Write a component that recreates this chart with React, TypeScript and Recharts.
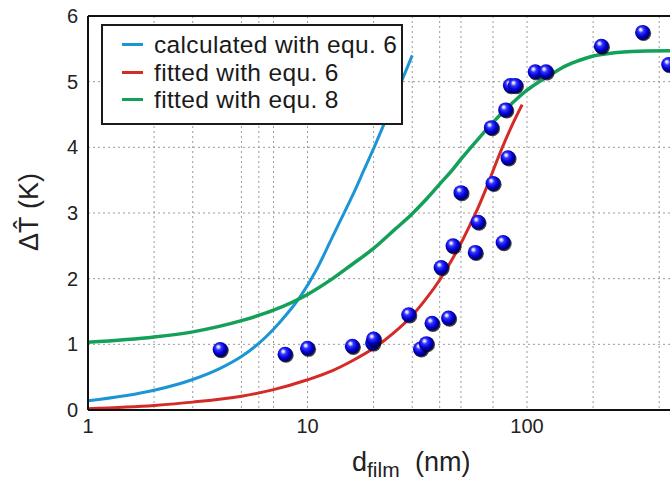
import React from 'react';
import { ComposedChart, Line, Scatter, XAxis, YAxis, ReferenceLine, CartesianGrid, Legend } from 'recharts';

const FONT = '"Liberation Sans", Arial, sans-serif';

// blue: calculated with equ. 6
const calcX = [1, 2, 3, 4, 5, 6, 7, 8, 9.4, 11, 12.7, 14, 16, 18, 20.5, 22.5, 24.4, 27, 30];
const calcY = [0.14, 0.30, 0.465, 0.635, 0.815, 1.015, 1.23, 1.45, 1.758, 2.14, 2.567, 2.86, 3.26, 3.64, 4.065, 4.385, 4.67, 5.03, 5.40];

// red: fitted with equ. 6
const fit6X = [1, 2, 3, 5, 7, 10, 13, 16, 20, 25, 30, 35, 40, 45, 50, 55, 60, 66, 73, 80, 87, 95];
const fit6Y = [0.02, 0.07, 0.12, 0.21, 0.31, 0.46, 0.6, 0.75, 0.94, 1.19, 1.44, 1.71, 1.98, 2.26, 2.54, 2.82, 3.09, 3.42, 3.8, 4.12, 4.39, 4.65];

// green: fitted with equ. 8
const fit8X = [1, 2, 3, 5, 7, 10, 13, 16, 20, 25, 30, 35, 40, 45, 50, 60, 70, 80, 90, 100, 115, 130, 150, 175, 200, 250, 300, 448];
const fit8Y = [1.03, 1.11, 1.19, 1.36, 1.52, 1.76, 2.0, 2.22, 2.46, 2.75, 2.99, 3.22, 3.44, 3.63, 3.82, 4.13, 4.38, 4.58, 4.74, 4.87, 5.01, 5.12, 5.24, 5.33, 5.39, 5.44, 5.46, 5.47];

// measured points
const measX = [4, 7.9, 10, 16, 19.8, 20, 28.9, 32.7, 34.8, 36.9, 40.6, 43.9, 46, 50, 58.1, 59.8, 68.8, 70, 77.8, 79.9, 81.9, 84, 88.5, 109, 122, 218, 336, 442];
const measY = [0.92, 0.85, 0.94, 0.97, 1.02, 1.08, 1.45, 0.93, 1.01, 1.32, 2.17, 1.40, 2.50, 3.31, 2.40, 2.86, 4.30, 3.45, 2.55, 4.57, 3.84, 4.94, 4.94, 5.15, 5.15, 5.54, 5.75, 5.26];

const xTicks = [1, 10, 100];
const yTicks = [0, 1, 2, 3, 4, 5, 6];
const xGrid = [2, 3, 5, 6, 7, 10, 20, 30, 40, 50, 60, 70, 90, 100, 200, 400];
const yGrid = [1, 2, 3, 4, 5];

const seriesNames = ['calculated with equ. 6', 'fitted with equ. 6', 'fitted with equ. 8'];
const seriesColors = ['#1b95d4', '#d42b28', '#13a058'];

const zip = (xs: number[], ys: number[]) => xs.map((x, i) => ({ x, y: ys[i] }));
const calcData = zip(calcX, calcY);
const fit6Data = zip(fit6X, fit6Y);
const fit8Data = zip(fit8X, fit8Y);
const measData = zip(measX, measY);

const Sphere = (props: any) => {
  const { cx, cy } = props;
  if (cx == null || cy == null) return null;
  return (
    <g>
      <defs>
        <radialGradient id="sphGrad" cx="45%" cy="42%" r="60%" fx="36%" fy="30%">
          <stop offset="0%" stopColor="#ffffff" />
          <stop offset="14%" stopColor="#c8c8ff" />
          <stop offset="32%" stopColor="#3535ff" />
          <stop offset="65%" stopColor="#0000d6" />
          <stop offset="88%" stopColor="#00007a" />
          <stop offset="100%" stopColor="#000020" />
        </radialGradient>
      </defs>
      <circle cx={cx + 1} cy={cy + 1} r={7.6} fill="#000010" opacity={0.75} />
      <circle cx={cx} cy={cy} r={7.5} fill="url(#sphGrad)" />
    </g>
  );
};

const XLabel = () => (
  <text x={352} y={471} fontFamily={FONT} fill="#222" fontSize={27}>
    d
    <tspan fontSize={21} dy={6}>film</tspan>
    <tspan x={415} dy={-6}>(nm)</tspan>
  </text>
);

const YLabel = () => (
  <text
    x={37.5}
    y={212}
    transform="rotate(-90 37.5 212)"
    textAnchor="middle"
    fontFamily={FONT}
    fill="#222"
    fontSize={27}
  >
    {'\u0394T\u0302 (K)'}
  </text>
);

const rowTops = [5, 32.5, 60];

const LegendBox = () => (
  <div
    style={{
      position: 'relative',
      width: 302,
      height: 101,
      boxSizing: 'border-box',
      border: '2px solid #1a1a1a',
      background: '#fff',
      fontFamily: FONT,
      fontSize: 24.5,
      letterSpacing: 0.35,
      color: '#1a1a1a',
    }}
  >
    {seriesNames.map((n, i) => (
      <div
        key={n}
        style={{ position: 'absolute', left: 0, top: rowTops[i], height: 27, lineHeight: '27px', whiteSpace: 'nowrap', width: 298 }}
      >
        <span style={{ position: 'absolute', left: 19, top: 12, width: 21, height: 3, background: seriesColors[i] }} />
        <span style={{ position: 'absolute', left: 51, top: 0 }}>{n}</span>
      </div>
    ))}
  </div>
);

export default function App() {
  return (
    <div style={{ position: 'absolute', left: 0, top: 0, width: 670, height: 482, background: '#fff' }}>
      <ComposedChart width={670} height={482} margin={{ top: 16, right: 0, bottom: 0, left: 0 }}>
        <CartesianGrid
          verticalValues={xGrid}
          horizontalValues={yGrid}
          stroke="#9a9a9a"
          strokeDasharray="2 3"
          strokeWidth={1}
        />
        <XAxis
          type="number"
          dataKey="x"
          scale="log"
          domain={[1, 448]}
          allowDataOverflow
          ticks={xTicks}
          height={72}
          tickLine={false}
          tickSize={0}
          tickMargin={9}
          axisLine={{ stroke: '#111', strokeWidth: 2 }}
          tick={{ fontSize: 20, fill: '#222', fontFamily: FONT }}
          tickFormatter={(v: number) => String(v)}
          label={<XLabel />}
        />
        <YAxis
          type="number"
          dataKey="y"
          domain={[0, 6]}
          ticks={yTicks}
          width={88}
          tickLine={false}
          tickSize={0}
          tickMargin={10}
          axisLine={{ stroke: '#111', strokeWidth: 2 }}
          tick={{ fontSize: 20, fill: '#222', fontFamily: FONT }}
          label={<YLabel />}
        />
        <ReferenceLine y={6} stroke="#111" strokeWidth={2} />
        <Line data={calcData} dataKey="y" type="monotone" stroke={seriesColors[0]} strokeWidth={3} dot={false} isAnimationActive={false} name={seriesNames[0]} />
        <Line data={fit6Data} dataKey="y" type="monotone" stroke={seriesColors[1]} strokeWidth={3} dot={false} isAnimationActive={false} name={seriesNames[1]} />
        <Line data={fit8Data} dataKey="y" type="monotone" stroke={seriesColors[2]} strokeWidth={3.5} dot={false} isAnimationActive={false} name={seriesNames[2]} />
        <Scatter data={measData} dataKey="y" shape={<Sphere />} isAnimationActive={false} />
        <Legend
          layout="vertical"
          verticalAlign="middle"
          align="center"
          content={<LegendBox />}
          wrapperStyle={{ position: 'absolute', left: 101, top: 24, width: 302, height: 101 }}
        />
      </ComposedChart>
    </div>
  );
}
